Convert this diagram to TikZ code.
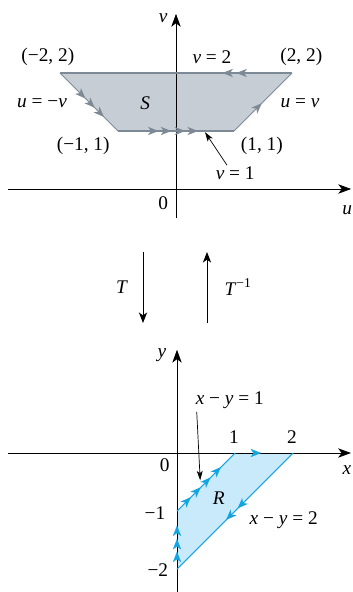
\documentclass[tikz,border=0pt]{standalone}
\usepackage{fontspec}
\setmainfont{Liberation Serif}
\usetikzlibrary{arrows.meta,decorations.markings}
\definecolor{sgray}{RGB}{125,138,150}
\definecolor{sfill}{RGB}{198,205,212}
\definecolor{rblue}{RGB}{20,165,225}
\definecolor{rfill}{RGB}{200,234,250}
\newcommand\etip{\arrow{Stealth[length=9pt,width=7pt,inset=2.5pt]}}
\tikzset{
  axis/.style={line width=.7pt,-{Stealth[length=11pt,width=8pt,inset=3pt]}},
  ptr/.style={line width=.6pt,-{Stealth[length=8pt,width=5pt,inset=2pt]}},
  mapto/.style={line width=.75pt,-{Stealth[length=9pt,width=7pt,inset=2.5pt]}},
  marks/.style={postaction={decorate,decoration={markings,#1}}},
}
\begin{document}
\begin{tikzpicture}[x=1cm,y=1cm,font=\fontsize{16.5}{19}\selectfont]
\useasboundingbox (0,0) rectangle (10.56,-17.76);
% region S in the uv-plane
\begin{scope}[shift={(5.28,-5.67)},x=1.74cm,y=1.74cm]
\fill[sfill] (-2,2) -- (2,2) -- (1,1) -- (-1,1) -- cycle;
\draw[axis] (-2.9,0) -- (3.02,0);
\draw[axis] (0,-.5) -- (0,3.02);
\draw[sgray,line width=.9pt,marks={mark=at position .24 with {\etip},mark=at position .3 with {\etip}}] (2,2) -- (-2,2);
\draw[sgray,line width=.9pt,marks={mark=at position .44 with {\etip},mark=at position .6 with {\etip},mark=at position .76 with {\etip}}] (-2,2) -- (-1,1);
\draw[sgray,line width=.9pt,marks={mark=at position .35 with {\etip},mark=at position .46 with {\etip},mark=at position .58 with {\etip},mark=at position .69 with {\etip}}] (-1,1) -- (1,1);
\draw[sgray,line width=.9pt,marks={mark=at position .48 with {\etip}}] (1,1) -- (2,2);
\node (lblv) at (-.22,2.95) {\textit{v}};
\node (lblu) at (2.95,-.36) {\textit{u}};
\node (orgS) at (-.22,-.24) {0};
\node (cA) at (-2.21,2.28) {(−2, 2)};
\node (cB) at (2.16,2.28) {(2, 2)};
\node (cC) at (-1.6,.74) {(−1, 1)};
\node (cD) at (1.48,.74) {(1, 1)};
\node (vtwo) at (.62,2.28) {\textit{v} = 2};
\node (umv) at (-2.31,1.48) {\textit{u} = −\textit{v}};
\node (uv) at (2.14,1.48) {\textit{u} = \textit{v}};
\node (nameS) at (-.53,1.48) {\textit{S}};
\node (vone) at (1.02,.28) {\textit{v} = 1};
\coordinate (pS) at (.88,.41);
\coordinate (qS) at (.5,.98);
\draw[ptr] (pS) -- (qS);
\end{scope}
% the maps
\coordinate (tA) at (4.29,-7.56);
\coordinate (tB) at (4.29,-9.69);
\coordinate (tC) at (6.21,-9.69);
\coordinate (tD) at (6.21,-7.56);
\draw[mapto] (tA) -- (tB);
\draw[mapto] (tC) -- (tD);
\node (lblT) at (3.66,-8.61) {\textit{T}};
\node (lblTi) at (7.14,-8.61) {\textit{T}\textsuperscript{−1}};
% region R in the xy-plane
\begin{scope}[shift={(5.31,-13.59)},x=1.74cm,y=1.74cm]
\fill[rfill] (0,-1) -- (1,0) -- (2,0) -- (0,-2) -- cycle;
\draw[axis] (-2.91,0) -- (3.0,0);
\draw[axis] (0,-2.4) -- (0,1.78);
\path[rblue,marks={mark=at position .3 with {\etip},mark=at position .52 with {\etip},mark=at position .75 with {\etip}}] (0,-2) -- (0,-1);
\draw[rblue,line width=.9pt,marks={mark=at position .24 with {\etip},mark=at position .41 with {\etip},mark=at position .58 with {\etip},mark=at position .76 with {\etip}}] (0,-1) -- (1,0);
\path[rblue,marks={mark=at position .45 with {\etip}}] (1,0) -- (2,0);
\draw[rblue,line width=.9pt,marks={mark=at position .48 with {\etip},mark=at position .58 with {\etip}}] (2,0) -- (0,-2);
\node (lbly) at (-.26,1.69) {\textit{y}};
\node (lblx) at (2.93,-.29) {\textit{x}};
\node (orgR) at (-.21,-.21) {0};
\node (xone) at (.98,.28) {1};
\node (xtwo) at (1.98,.28) {2};
\node (ymone) at (-.38,-1.03) {−1};
\node (ymtwo) at (-.33,-2.02) {−2};
\node (nameR) at (.72,-.78) {\textit{R}};
\node (lineone) at (.91,.91) {\textit{x} − \textit{y} = 1};
\node (linetwo) at (1.84,-1.16) {\textit{x} − \textit{y} = 2};
\coordinate (pR) at (.34,.71);
\coordinate (qR) at (.4,-.47);
\draw[ptr] (pR) -- (qR);
\end{scope}
\end{tikzpicture}
\end{document}
